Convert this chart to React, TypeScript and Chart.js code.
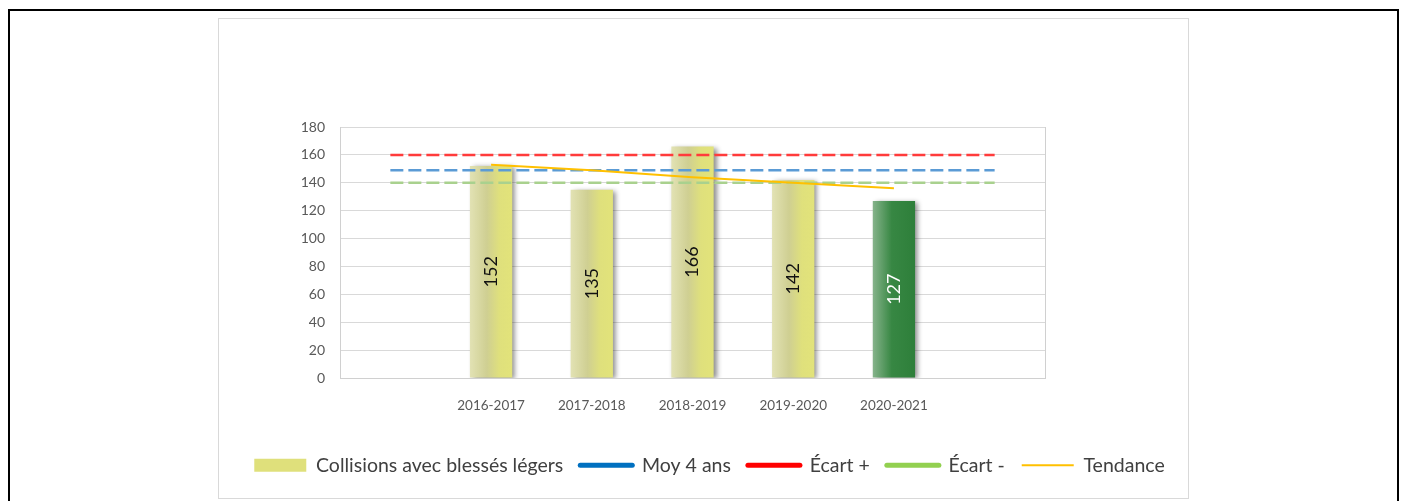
import React, { useEffect, useRef } from 'react';
import { Chart, registerables } from 'chart.js';

Chart.register(...registerables);

// ---- data ----
const categories = ['', '2016-2017', '2017-2018', '2018-2019', '2019-2020', '2020-2021', ''];
const collisions: (number | null)[] = [null, 152, 135, 166, 142, 127, null];
const moy4ans: number[] = [149, 149, 149, 149, 149, 149, 149];
const ecartPlus: number[] = [160, 160, 160, 160, 160, 160, 160];
const ecartMoins: number[] = [140, 140, 140, 140, 140, 140, 140];
const tendance: (number | null)[] = [null, 153, 149, 144, 140, 136, null];
const yMin = 0;
const yMax = 180;
const yStep = 20;
const highlightIndex = 5;

const legendLabels = ['Collisions avec blessés légers', 'Moy 4 ans', 'Écart +', 'Écart -', 'Tendance'];

const FONT = 'Lato, "Open Sans", "DejaVu Sans", sans-serif';
const BAR_FRACTION = 0.42;

const barFill = (c: any) => {
  const isHi = c.dataIndex === highlightIndex;
  const solid = isHi ? '#2f7f3b' : '#dfe07b';
  try {
    const chart = c.chart;
    const { chartArea, scales } = chart;
    if (!chartArea || !scales || !scales.x || typeof c.dataIndex !== 'number') return solid;
    const cx = scales.x.getPixelForValue(c.dataIndex);
    const w = (chartArea.width / categories.length) * BAR_FRACTION;
    if (!isFinite(cx) || !isFinite(w) || w <= 0) return solid;
    const g = chart.ctx.createLinearGradient(cx - w / 2, 0, cx + w / 2, 0);
    if (isHi) {
      g.addColorStop(0, '#86b38b');
      g.addColorStop(0.45, '#378743');
      g.addColorStop(1, '#2e7f3a');
    } else {
      g.addColorStop(0, '#e2e2b4');
      g.addColorStop(0.4, '#cfcf92');
      g.addColorStop(0.7, '#dfe07c');
      g.addColorStop(1, '#e2e37a');
    }
    return g;
  } catch (e) {
    return solid;
  }
};

const shadowPlugin = {
  id: 'barShadow',
  beforeDatasetDraw(chart: any, args: any) {
    if (args.meta.type === 'bar') {
      const ctx = chart.ctx;
      ctx.save();
      ctx.shadowColor = 'rgba(0,0,0,0.45)';
      ctx.shadowBlur = 5;
      ctx.shadowOffsetX = 3;
      ctx.shadowOffsetY = 1;
    }
  },
  afterDatasetDraw(chart: any, args: any) {
    if (args.meta.type === 'bar') {
      chart.ctx.restore();
    }
  },
};

const framePlugin = {
  id: 'plotFrame',
  beforeDatasetsDraw(chart: any) {
    const { ctx, chartArea } = chart;
    ctx.save();
    ctx.strokeStyle = '#d0d0d0';
    ctx.lineWidth = 1;
    ctx.beginPath();
    const x = Math.round(chartArea.right) + 0.5;
    ctx.moveTo(x, chartArea.top);
    ctx.lineTo(x, chartArea.bottom);
    ctx.stroke();
    ctx.restore();
  },
};

const labelPlugin = {
  id: 'barLabels',
  afterDatasetsDraw(chart: any) {
    const ctx = chart.ctx;
    chart.data.datasets.forEach((ds: any, di: number) => {
      const meta = chart.getDatasetMeta(di);
      if (meta.type !== 'bar') return;
      meta.data.forEach((el: any, i: number) => {
        const v = ds.data[i];
        if (v === null || v === undefined) return;
        const cy = (el.y + el.base) / 2;
        ctx.save();
        ctx.translate(el.x, cy);
        ctx.rotate(-Math.PI / 2);
        ctx.font = `18px ${FONT}`;
        ctx.fillStyle = i === highlightIndex ? '#ffffff' : '#111111';
        ctx.textAlign = 'center';
        ctx.textBaseline = 'middle';
        ctx.fillText(String(v), 0, 0);
        ctx.restore();
      });
    });
  },
};

const legendItems = () => [
  { text: legendLabels[0], fillStyle: '#dfe07b', strokeStyle: 'rgba(0,0,0,0)', lineWidth: 0, pointStyle: 'rect', hidden: false, datasetIndex: 0, fontColor: '#404040' },
  { text: legendLabels[1], fillStyle: '#0070c0', strokeStyle: '#0070c0', lineWidth: 5, lineCap: 'round', pointStyle: 'line', hidden: false, datasetIndex: 1, fontColor: '#404040' },
  { text: legendLabels[2], fillStyle: '#ff0000', strokeStyle: '#ff0000', lineWidth: 5, lineCap: 'round', pointStyle: 'line', hidden: false, datasetIndex: 2, fontColor: '#404040' },
  { text: legendLabels[3], fillStyle: '#92d050', strokeStyle: '#92d050', lineWidth: 5, lineCap: 'round', pointStyle: 'line', hidden: false, datasetIndex: 3, fontColor: '#404040' },
  { text: legendLabels[4], fillStyle: '#ffc000', strokeStyle: '#ffc000', lineWidth: 2, lineCap: 'butt', pointStyle: 'line', hidden: false, datasetIndex: 4, fontColor: '#404040' },
];

export default function App() {
  const ref = useRef<HTMLCanvasElement | null>(null);

  useEffect(() => {
    document.documentElement.style.overflow = 'hidden';
    document.body.style.overflow = 'hidden';
    if (!ref.current) return;
    let chart: any = null;
    try {
      chart = new Chart(ref.current, {
        type: 'bar',
        data: {
          labels: categories,
          datasets: [
            {
              type: 'bar',
              label: legendLabels[0],
              data: collisions,
              backgroundColor: barFill,
              borderWidth: 0,
              categoryPercentage: 1,
              barPercentage: BAR_FRACTION,
              order: 5,
            },
            {
              type: 'line',
              label: legendLabels[1],
              data: moy4ans,
              borderColor: '#5b9bd5',
              borderWidth: 2.5,
              borderDash: [13, 5],
              pointRadius: 0,
              fill: false,
              order: 1,
            },
            {
              type: 'line',
              label: legendLabels[2],
              data: ecartPlus,
              borderColor: '#ff3b3b',
              borderWidth: 2.5,
              borderDash: [13, 5],
              pointRadius: 0,
              fill: false,
              order: 2,
            },
            {
              type: 'line',
              label: legendLabels[3],
              data: ecartMoins,
              borderColor: '#a9d18e',
              borderWidth: 2.5,
              borderDash: [13, 5],
              pointRadius: 0,
              fill: false,
              order: 3,
            },
            {
              type: 'line',
              label: legendLabels[4],
              data: tendance,
              borderColor: '#ffc000',
              borderWidth: 2,
              pointRadius: 0,
              fill: false,
              order: 0,
            },
          ],
        },
        options: {
          animation: false,
          responsive: false,
          maintainAspectRatio: false,
          layout: { padding: { left: 12, right: 0, top: 108, bottom: 13 } },
          scales: {
            x: {
              grid: { display: false },
              border: { display: true, color: '#d0d0d0' },
              ticks: {
                color: '#595959',
                font: { family: FONT, size: 13.5 },
                padding: 12,
                maxRotation: 0,
                autoSkip: false,
              },
              afterFit: (s: any) => {
                s.height = 60.5;
              },
            },
            y: {
              min: yMin,
              max: yMax,
              ticks: {
                stepSize: yStep,
                color: '#595959',
                font: { family: FONT, size: 14 },
                padding: 15,
              },
              grid: { color: '#d9d9d9', drawTicks: false },
              border: { display: true, color: '#d0d0d0' },
              afterFit: (s: any) => {
                s.width = 109;
              },
            },
            y2: {
              type: 'linear',
              position: 'right',
              display: true,
              grid: { display: false, drawTicks: false },
              border: { display: false },
              ticks: { display: false },
              afterFit: (s: any) => {
                s.width = 143;
              },
            },
          },
          plugins: {
            tooltip: { enabled: false },
            legend: {
              position: 'bottom',
              labels: {
                usePointStyle: true,
                pointStyleWidth: 52,
                boxHeight: 13,
                padding: 17,
                color: '#404040',
                font: { family: FONT, size: 19.5 },
                generateLabels: legendItems,
              },
            },
          },
        },
        plugins: [shadowPlugin, framePlugin, labelPlugin],
      } as any);
    } catch (e) {
      console.error(e);
    }
    return () => {
      if (chart) chart.destroy();
    };
  }, []);

  return (
    <div style={{ position: 'relative', width: 1391, height: 493, overflow: 'hidden' }}>
      <div
        style={{
          position: 'absolute',
          left: 0,
          top: 1,
          width: 1391,
          height: 492,
          boxSizing: 'border-box',
          borderTop: '2px solid #000',
          borderLeft: '2px solid #000',
          borderRight: '2px solid #000',
          borderBottom: 'none',
        }}
      />
      <div
        style={{
          position: 'absolute',
          left: 210,
          top: 10,
          width: 971,
          height: 481,
          boxSizing: 'border-box',
          border: '1px solid #d9d9d9',
          background: '#fff',
          overflow: 'hidden',
        }}
      >
        <canvas ref={ref} width={969} height={479} style={{ display: 'block', width: 969, height: 479 }} />
      </div>
    </div>
  );
}
